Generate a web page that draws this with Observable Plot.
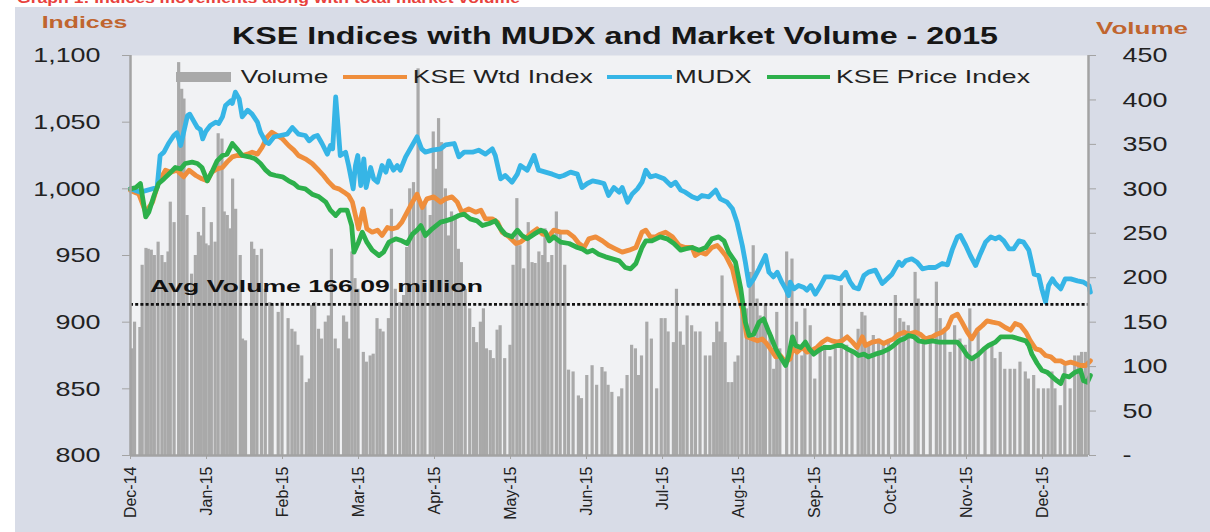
<!DOCTYPE html>
<html><head><meta charset="utf-8">
<script src="https://cdn.jsdelivr.net/npm/d3@7"></script>
<script src="https://cdn.jsdelivr.net/npm/@observablehq/plot@0.6"></script>
<style>
html,body{margin:0;padding:0;background:#fff;width:1210px;height:532px;overflow:hidden}
#wrap{position:relative;width:1210px;height:532px}
#panel{position:absolute;left:15px;top:7px;width:1195px;height:525px;background:#d8dce7}
#chart{position:absolute;left:0;top:0}
</style></head><body>
<div id="wrap"><div id="panel"></div><div id="chart"></div></div>
<script>
// x positions are in months since Dec-14 (equal spacing per month, as in the source axis)
const months = ["Dec-14","Jan-15","Feb-15","Mar-15","Apr-15","May-15","Jun-15","Jul-15","Aug-15","Sep-15","Oct-15","Nov-15","Dec-15"];
const leftTicks = [800,850,900,950,1000,1050,1100];
const volumeTicks = [0,50,100,150,200,250,300,350,400,450];
const avgVolume = 166.09;      // label value (million)
const avgLineLevel = 170;      // where the dotted line is drawn (volume units)

const mudx = [[0,1000],[0.13,997.5],[0.35,1001],[0.39,1025],[0.44,1027.5],[0.50,1034],[0.57,1040],[0.61,1042],[0.66,1032.5],[0.75,1055],[0.78,1056],[0.83,1051],[0.88,1046],[0.92,1044.5],[0.95,1037.5],[0.99,1043],[1.05,1047.5],[1.12,1050],[1.16,1049],[1.21,1054],[1.25,1062.5],[1.32,1066],[1.34,1064],[1.38,1072.5],[1.43,1067.5],[1.47,1054],[1.54,1059],[1.60,1056],[1.67,1050],[1.71,1042.5],[1.78,1035],[1.82,1034],[1.89,1039],[1.97,1040],[2.06,1041],[2.13,1046],[2.21,1041],[2.30,1040],[2.35,1036],[2.41,1039],[2.46,1040],[2.52,1034],[2.59,1026],[2.63,1032.5],[2.66,1030],[2.70,1069],[2.73,1047.5],[2.76,1025],[2.83,1027.5],[2.87,1017.5],[2.93,1000],[2.96,1017.5],[2.99,1025],[3.03,1002.5],[3.07,1022.5],[3.10,1001],[3.16,1016],[3.20,1007.5],[3.25,1005],[3.31,1017.5],[3.36,1012.5],[3.40,1021],[3.46,1014],[3.51,1017.5],[3.55,1014],[3.62,1024],[3.68,1030],[3.77,1039],[3.83,1030],[3.88,1027.5],[3.97,1029],[4.08,1030],[4.145,1033],[4.26,1034],[4.32,1024],[4.39,1027.5],[4.50,1027.5],[4.58,1029],[4.67,1026],[4.76,1030],[4.80,1025],[4.87,1007.5],[4.93,1010],[5.02,1005],[5.09,1011],[5.13,1017.5],[5.22,1014],[5.31,1025],[5.37,1014],[5.46,1012.5],[5.55,1011],[5.64,1009],[5.70,1010],[5.79,1012.5],[5.88,1011],[5.94,1001],[6.01,1004],[6.08,1006],[6.16,1005],[6.23,1004],[6.29,995],[6.36,1001],[6.43,997.5],[6.47,1001],[6.54,990],[6.60,996],[6.67,1000],[6.73,1005],[6.78,1014],[6.84,1009],[6.91,1010],[7.02,1007.5],[7.11,1002.5],[7.17,1005],[7.24,999],[7.30,997.5],[7.39,994],[7.46,992.5],[7.52,995],[7.61,994],[7.70,999],[7.76,992.5],[7.85,990],[7.92,985],[7.98,975],[8.05,957.5],[8.09,945],[8.14,927.5],[8.20,932.5],[8.27,940],[8.355,950],[8.40,937.5],[8.46,934],[8.51,937.5],[8.57,930],[8.62,925],[8.66,920],[8.68,930],[8.73,925],[8.79,927.5],[8.86,926],[8.90,924],[8.95,927.5],[9.01,921],[9.08,927.5],[9.14,934],[9.23,934],[9.34,932.5],[9.41,937.5],[9.47,930],[9.52,926],[9.58,925],[9.65,935],[9.71,937.5],[9.80,939],[9.89,929],[9.93,931],[10.02,936],[10.11,945],[10.15,942.5],[10.20,946],[10.28,947.5],[10.35,945],[10.42,940],[10.50,941],[10.59,941],[10.68,944],[10.75,943],[10.81,954],[10.88,964],[10.92,965],[10.99,957.5],[11.05,950],[11.12,942.5],[11.18,951],[11.25,960],[11.32,964],[11.38,962.5],[11.43,964],[11.49,961],[11.56,955],[11.62,955],[11.69,961],[11.75,960],[11.82,954],[11.86,944],[11.89,936],[11.95,935],[11.99,925],[12.04,915],[12.08,927.5],[12.13,932.5],[12.17,929],[12.24,925],[12.30,932.5],[12.37,932.5],[12.46,931],[12.54,930],[12.61,927.5],[12.63,922.5]];

const kseWtd = [[0,998.75],[0.11,996],[0.20,982.5],[0.29,990],[0.37,1005],[0.46,1014],[0.53,1012.5],[0.61,1014],[0.70,1009],[0.77,1014],[0.86,1010],[0.94,1007.5],[1.01,1006],[1.07,1012.5],[1.14,1015],[1.21,1016],[1.27,1020],[1.34,1024],[1.40,1025],[1.47,1025],[1.54,1026],[1.60,1027.5],[1.67,1026],[1.73,1031],[1.80,1039],[1.86,1042.5],[1.93,1040],[2.00,1037.5],[2.08,1032.5],[2.15,1029],[2.21,1025],[2.30,1022.5],[2.39,1019],[2.46,1015],[2.54,1010],[2.61,1005],[2.68,1001],[2.74,1000],[2.81,997.5],[2.87,995],[2.92,990],[2.96,980],[3.00,970],[3.06,985],[3.11,970],[3.18,967.5],[3.25,969],[3.31,965],[3.38,971],[3.44,970],[3.51,971],[3.57,975],[3.64,982.5],[3.71,990],[3.77,996],[3.84,986],[3.90,992.5],[3.99,994],[4.08,990],[4.145,992.5],[4.23,994],[4.30,990],[4.36,982.5],[4.45,985],[4.54,982.5],[4.61,984],[4.67,977.5],[4.76,977.5],[4.83,975],[4.89,967.5],[4.98,964],[5.07,959],[5.13,960],[5.22,964],[5.29,967.5],[5.35,970],[5.42,966],[5.51,965],[5.57,969],[5.66,967.5],[5.75,967.5],[5.83,964],[5.90,959],[5.97,956],[6.03,962.5],[6.12,964],[6.21,961],[6.29,957.5],[6.38,955],[6.47,952.5],[6.56,954],[6.65,956],[6.73,967.5],[6.78,969],[6.84,964],[6.91,964],[6.97,966],[7.04,967.5],[7.13,964],[7.22,957.5],[7.30,956],[7.39,956],[7.43,950],[7.50,952.5],[7.57,951],[7.65,956],[7.72,957.5],[7.76,955],[7.83,950],[7.92,940],[7.98,925],[8.05,910],[8.11,889],[8.18,887.5],[8.25,886],[8.31,887.5],[8.355,885],[8.42,880],[8.49,874],[8.55,875],[8.62,870],[8.68,872.5],[8.71,880],[8.77,877.5],[8.84,881],[8.90,877.5],[8.97,879],[9.03,881],[9.10,885],[9.17,887.5],[9.23,886],[9.30,885],[9.36,886],[9.43,889],[9.50,885],[9.56,881],[9.63,889],[9.67,882.5],[9.76,885],[9.85,886],[9.91,884],[9.98,886],[10.04,887.5],[10.11,891],[10.18,892.5],[10.24,891],[10.33,892.5],[10.39,891],[10.46,887.5],[10.55,889],[10.61,891],[10.68,892.5],[10.75,896],[10.81,904],[10.88,906],[10.94,900],[11.01,892.5],[11.07,887.5],[11.14,894],[11.21,897.5],[11.27,901],[11.34,900],[11.43,899],[11.51,896],[11.58,894],[11.64,899],[11.71,897.5],[11.78,892.5],[11.84,886],[11.91,880],[11.97,879],[12.04,875],[12.11,874],[12.17,871],[12.24,871],[12.30,869],[12.37,870],[12.43,869],[12.50,867.5],[12.57,867.5],[12.63,871]];

const ksePrice = [[0,1000],[0.07,1001],[0.13,1004],[0.20,979],[0.24,982.5],[0.31,995],[0.37,1004],[0.44,1007.5],[0.53,1012.5],[0.59,1016],[0.66,1015],[0.72,1019],[0.81,1020],[0.88,1019],[0.94,1016],[1.01,1006],[1.07,1012.5],[1.14,1021],[1.21,1025],[1.27,1026],[1.34,1034],[1.40,1030],[1.47,1025],[1.56,1024],[1.64,1022.5],[1.71,1019],[1.78,1014],[1.84,1011],[1.91,1010],[2.00,1009],[2.08,1006],[2.15,1004],[2.21,1001],[2.30,1000],[2.39,996],[2.48,994],[2.57,990],[2.63,984],[2.70,980],[2.76,984],[2.85,984],[2.91,972.5],[2.94,952.5],[3.00,960],[3.05,967.5],[3.11,960],[3.18,954],[3.27,950],[3.33,952.5],[3.40,960],[3.49,962.5],[3.57,961],[3.64,959],[3.71,966],[3.77,969],[3.82,972.5],[3.88,965],[3.97,970],[4.08,975],[4.145,976],[4.23,977.5],[4.32,980],[4.39,981],[4.47,977.5],[4.56,976],[4.63,972.5],[4.72,974],[4.80,976],[4.87,970],[4.93,966],[5.02,964],[5.09,969],[5.15,965],[5.22,962.5],[5.31,966],[5.40,969],[5.46,967.5],[5.51,961],[5.57,964],[5.66,960],[5.77,959],[5.88,956],[5.94,955],[6.01,952.5],[6.08,954],[6.16,951],[6.25,949],[6.34,947.5],[6.43,946],[6.51,941],[6.58,940],[6.65,944],[6.73,956],[6.78,961],[6.86,961],[6.97,964],[7.06,962.5],[7.15,959],[7.24,954],[7.30,955],[7.39,956],[7.48,954],[7.57,956],[7.65,962.5],[7.74,964],[7.81,961],[7.87,952.5],[7.96,945],[8.03,925],[8.09,900],[8.14,890],[8.20,891],[8.27,900],[8.33,902.5],[8.40,892.5],[8.42,890],[8.49,880],[8.55,874],[8.62,867.5],[8.66,875],[8.71,889],[8.75,882.5],[8.82,881],[8.88,885],[8.93,880],[8.99,876],[9.06,879],[9.12,881],[9.21,881],[9.30,882.5],[9.36,882.5],[9.43,880],[9.52,877.5],[9.58,875],[9.65,876],[9.71,874],[9.80,876],[9.89,877.5],[9.98,880],[10.04,882.5],[10.11,886],[10.18,887.5],[10.24,890],[10.31,889],[10.37,886],[10.46,885],[10.55,886],[10.64,885],[10.72,885],[10.81,885],[10.88,885],[10.94,881],[11.01,875],[11.07,872.5],[11.16,876],[11.23,880],[11.29,882.5],[11.38,885],[11.45,889],[11.51,889],[11.60,889],[11.69,887.5],[11.78,886],[11.82,882.5],[11.86,876],[11.93,869],[11.99,864],[12.06,862.5],[12.13,859],[12.19,856],[12.24,854],[12.28,860],[12.35,859],[12.43,862.5],[12.50,864],[12.54,856],[12.59,855],[12.63,860]];

// daily market volume (million shares)
const volume = [[0.02,120],[0.06,150],[0.13,144],[0.16,214],[0.21,233],[0.24,232],[0.28,231],[0.32,225],[0.37,240],[0.42,225],[0.46,217],[0.50,229],[0.53,285],[0.58,262],[0.64,442],[0.68,412],[0.71,401],[0.75,270],[0.81,204],[0.86,225],[0.90,251],[0.93,247],[0.97,279],[1.00,238],[1.04,236],[1.07,262],[1.12,240],[1.16,362],[1.21,356],[1.24,274],[1.28,270],[1.32,255],[1.35,311],[1.39,277],[1.45,225],[1.48,131],[1.52,129],[1.60,240],[1.63,232],[1.67,225],[1.73,232],[1.78,187],[1.84,172],[1.87,169],[1.95,161],[2.00,172],[2.08,154],[2.13,142],[2.17,139],[2.21,124],[2.26,112],[2.32,82],[2.36,86],[2.39,169],[2.43,172],[2.48,142],[2.52,131],[2.57,150],[2.61,157],[2.65,232],[2.70,131],[2.74,120],[2.81,157],[2.85,150],[2.88,131],[2.92,229],[2.96,199],[3.00,187],[3.07,116],[3.11,105],[3.16,112],[3.20,114],[3.25,154],[3.29,142],[3.33,139],[3.40,154],[3.44,277],[3.49,187],[3.55,172],[3.60,180],[3.64,234],[3.68,300],[3.73,307],[3.79,435],[3.84,277],[3.88,285],[3.95,270],[3.99,364],[4.03,322],[4.06,379],[4.10,352],[4.15,300],[4.19,247],[4.23,274],[4.28,266],[4.32,232],[4.36,217],[4.41,187],[4.47,165],[4.52,144],[4.56,127],[4.61,150],[4.65,165],[4.69,120],[4.74,118],[4.78,109],[4.83,141],[4.87,146],[4.93,109],[5.00,124],[5.04,214],[5.09,289],[5.13,236],[5.18,210],[5.24,262],[5.29,217],[5.33,216],[5.38,229],[5.43,225],[5.46,255],[5.50,217],[5.55,225],[5.61,274],[5.66,251],[5.72,214],[5.77,96],[5.83,94],[5.90,67],[5.94,64],[6.01,90],[6.08,101],[6.14,79],[6.21,99],[6.25,94],[6.29,79],[6.34,71],[6.43,66],[6.47,75],[6.54,90],[6.60,124],[6.65,120],[6.69,90],[6.73,112],[6.80,150],[6.86,131],[6.93,75],[6.99,154],[7.04,154],[7.08,139],[7.15,127],[7.19,187],[7.24,139],[7.28,124],[7.33,157],[7.39,146],[7.44,139],[7.50,139],[7.57,112],[7.63,112],[7.68,127],[7.72,150],[7.76,139],[7.79,202],[7.83,127],[7.87,82],[7.92,82],[7.96,105],[8.00,112],[8.05,180],[8.11,165],[8.16,206],[8.20,236],[8.25,176],[8.29,157],[8.33,150],[8.36,169],[8.42,139],[8.47,97],[8.51,161],[8.55,120],[8.64,229],[8.71,221],[8.77,150],[8.84,112],[8.88,165],[8.95,146],[9.01,86],[9.08,124],[9.14,124],[9.21,111],[9.28,120],[9.36,191],[9.43,124],[9.50,116],[9.58,142],[9.63,161],[9.67,157],[9.72,127],[9.78,135],[9.85,131],[9.91,127],[9.98,127],[10.07,180],[10.13,154],[10.18,150],[10.24,146],[10.33,206],[10.37,176],[10.44,127],[10.53,135],[10.61,195],[10.66,154],[10.72,139],[10.79,116],[10.85,146],[10.92,131],[10.99,124],[11.05,165],[11.10,109],[11.16,139],[11.25,120],[11.34,124],[11.38,109],[11.45,116],[11.51,97],[11.58,97],[11.64,97],[11.71,105],[11.78,94],[11.82,86],[11.89,90],[11.95,75],[12.02,75],[12.08,75],[12.13,94],[12.17,75],[12.24,56],[12.30,101],[12.37,75],[12.43,112],[12.48,112],[12.52,116],[12.57,116]];

// ---- rendering ----
const xEnd = 12.605;                       // last month position visible at the right edge
const toIdx = v => 800 + v * (300 / 450);  // volume axis (0–450) shares the index axis (800–1100)
const halfBar = 0.021;
const FONT = "Liberation Sans, Arial, sans-serif";
const axisGray = "#a3a3a3";
const LW = 4.8;

const chart = Plot.plot({
  width: 1210, height: 532,
  marginLeft: 130, marginRight: 122, marginTop: 55, marginBottom: 77,
  style: {background: "transparent", fontFamily: FONT, color: "#222"},
  x: {domain: [0, xEnd]},
  y: {domain: [800, 1100]},
  marks: [
    Plot.frame({fill: "#f1f2f4", stroke: "none"}),
    Plot.rect(volume, {x1: d => d[0] - halfBar, x2: d => d[0] + halfBar, y1: 800, y2: d => toIdx(d[1]), fill: "#a9a9a9"}),
    Plot.line(kseWtd, {x: d => d[0], y: d => d[1], stroke: "#ef8e3c", strokeWidth: LW, strokeLinejoin: "round"}),
    Plot.line(mudx, {x: d => d[0], y: d => d[1], stroke: "#36b5e6", strokeWidth: LW, strokeLinejoin: "round"}),
    Plot.line(ksePrice, {x: d => d[0], y: d => d[1], stroke: "#2db04b", strokeWidth: LW, strokeLinejoin: "round"}),
    Plot.ruleY([toIdx(avgLineLevel)], {stroke: "#111", strokeWidth: 2.8, strokeDasharray: "3,2.2"}),
    Plot.ruleX([0, xEnd], {stroke: axisGray, strokeWidth: 2.5}),
    Plot.ruleY([800], {stroke: axisGray, strokeWidth: 2.5}),
    Plot.axisY({anchor: "left", ticks: leftTicks, tickFormat: d3.format(","), tickSize: 8, tickPadding: 22,
                fontSize: 21, stroke: axisGray, fill: "#222", label: null}),
    Plot.axisY({anchor: "right", ticks: volumeTicks.map(toIdx),
                tickFormat: d => { const v = Math.round((d - 800) * 1.5); return v === 0 ? "-" : String(v); },
                tickSize: 7, tickPadding: 27, fontSize: 21, stroke: axisGray, fill: "#222", label: null}),
    Plot.axisX({ticks: d3.range(months.length), tickFormat: i => months[i], tickRotate: -90,
                tickSize: 4, tickPadding: 7, fontSize: 16, stroke: axisGray, fill: "#222", label: null})
  ]
});
document.getElementById("chart").append(chart);

const svg = d3.select(chart);
// the source picture is horizontally stretched: widen y tick labels accordingly
svg.selectAll('g[aria-label="y-axis tick label"] text').each(function () {
  const L = this.getComputedTextLength();
  this.setAttribute("textLength", (L * 1.28).toFixed(1));
  this.setAttribute("lengthAdjust", "spacingAndGlyphs");
});

function addText(str, x, y, size, width, fill, weight) {
  svg.append("text").attr("x", x).attr("y", y).attr("font-size", size)
    .attr("text-anchor", "start")
    .attr("font-weight", weight || "normal").attr("fill", fill).attr("font-family", FONT)
    .attr("textLength", width).attr("lengthAdjust", "spacingAndGlyphs").text(str);
}
addText("Graph 1: Indices movements along with total market volume", 17, 3, 14, 503, "#e8413c", "bold");
addText("Indices", 41.7, 28.3, 16.3, 85.6, "#c0652f", "bold");
addText("Volume", 1096, 34, 17, 92, "#c0652f", "bold");
addText("KSE Indices with MUDX and Market Volume - 2015", 232, 43.5, 23.5, 766, "#161616", "bold");
addText("Avg Volume " + avgVolume.toFixed(2) + " million", 150, 291.7, 17, 333, "#111", "bold");

// legend
const legend = svg.append("g");
legend.append("rect").attr("x", 176).attr("y", 72).attr("width", 55).attr("height", 10).attr("fill", "#a9a9a9");
addText("Volume", 240.7, 83.3, 17.6, 87.6, "#222");
const legendItems = [
  {x1: 343, x2: 407, color: "#ef8e3c", label: "KSE Wtd Index", tx: 412.7, tw: 180},
  {x1: 607, x2: 672, color: "#36b5e6", label: "MUDX", tx: 675, tw: 76.7},
  {x1: 767, x2: 830, color: "#2db04b", label: "KSE Price Index", tx: 836, tw: 194}
];
for (const it of legendItems) {
  legend.append("line").attr("x1", it.x1).attr("x2", it.x2).attr("y1", 77).attr("y2", 77)
    .attr("stroke", it.color).attr("stroke-width", 4);
  addText(it.label, it.tx, 83.3, 17.6, it.tw, "#222");
}
</script>
</body></html>
